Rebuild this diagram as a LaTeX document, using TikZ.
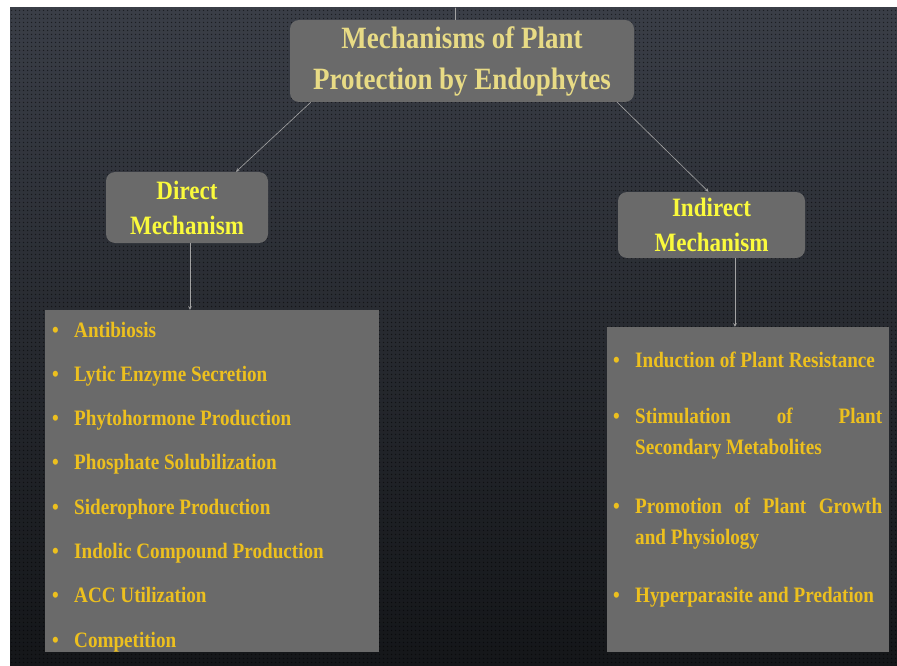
\documentclass[tikz,border=0pt]{standalone}
\usepackage{fontspec}
\newfontfamily\slidefont{Liberation Serif}[FakeStretch=0.87]
\usetikzlibrary{arrows.meta,patterns.meta}
\hyphenpenalty=10000
\tolerance=10000
\definecolor{bgtop}{HTML}{3A3E47}
\definecolor{bgbot}{HTML}{141619}
\definecolor{boxgray}{HTML}{6A6A6A}
\definecolor{titletext}{HTML}{E8DB85}
\definecolor{mechtext}{HTML}{FAFA3C}
\definecolor{itemtext}{HTML}{EDC01E}
\definecolor{linkgray}{HTML}{A3A3A3}
\newcommand{\dotmark}{\hbox to 22pt{\textbullet\hfil}}
\tikzset{
  headbox/.style={fill=boxgray, rounded corners=9pt, align=center, inner sep=0pt},
  ttlfont/.style={text=titletext, font=\slidefont\bfseries\fontsize{31}{41}\selectfont},
  mechfont/.style={text=mechtext, font=\slidefont\bfseries\fontsize{26.5}{35}\selectfont},
  listbox/.style={fill=boxgray, inner sep=0pt},
  bulleted/.style={anchor=base west, inner sep=0pt, text=itemtext,
    font=\slidefont\bfseries\fontsize{22}{31}\selectfont},
  link/.style={draw=linkgray, line width=0.6pt},
}
\begin{document}
\begin{tikzpicture}[x=1pt, y=-1pt, >=stealth, line join=round, line cap=round]
  \useasboundingbox (0,0) rectangle (897,666);
  % backdrop
  \fill[white] (0,0) rectangle (897,666);
  \shade[top color=bgtop, bottom color=bgbot] (10,8) rectangle (897,666);
  \fill[pattern={Dots[distance=4pt,radius=0.9pt]}, pattern color=black, fill opacity=0.5] (10,8) rectangle (897,666);
  % headings
  \node[headbox, ttlfont, minimum width=344pt, minimum height=82pt] (ttl) at (462,61) {Mechanisms of Plant\\Protection by Endophytes};
  \node[headbox, mechfont, minimum width=162pt, minimum height=71pt] (dir) at (187,207.5) {Direct\\Mechanism};
  \node[headbox, mechfont, minimum width=187pt, minimum height=66pt] (ind) at (711.5,225) {Indirect\\Mechanism};
  % list panels
  \node[listbox, minimum width=334pt, minimum height=342pt] (dl) at (212,481) {};
  \node[listbox, minimum width=282pt, minimum height=325pt] (il) at (748,489.5) {};
  % direct items
  \foreach \txt [count=\i] in {Antibiosis, Lytic Enzyme Secretion, Phytohormone Production,
      Phosphate Solubilization, Siderophore Production, Indolic Compound Production,
      ACC Utilization, Competition}
    \node[bulleted] (d\i) at (52,{337+44.3*(\i-1)}) {\dotmark\txt};
  % indirect items
  \node[bulleted, text width=269pt, align=justify] (i1) at (613,367) {\hangindent=22pt\hangafter=1\dotmark Induction of Plant Resistance\par};
  \node[bulleted, text width=269pt, align=justify] (i2) at (613,423) {\hangindent=22pt\hangafter=1\dotmark Stimulation of Plant Secondary Metabolites\par};
  \node[bulleted, text width=269pt, align=justify] (i3) at (613,513) {\hangindent=22pt\hangafter=1\dotmark Promotion of Plant Growth and Physiology\par};
  \node[bulleted, text width=269pt, align=justify] (i4) at (613,602) {\hangindent=22pt\hangafter=1\dotmark Hyperparasite and Predation\par};
  % connectors
  \coordinate (feed) at (455,8);
  \draw[link] (feed) -- (feed |- ttl.north);
  \draw[link, ->] ([xshift=21pt]ttl.south west) -- ([xshift=49pt]dir.north);
  \draw[link, ->] ([xshift=-17pt]ttl.south east) -- ([xshift=-3pt]ind.north);
  \draw[link, ->] ([xshift=3pt]dir.south) -- ([xshift=3pt]dir.south |- dl.north);
  \draw[link, ->] ([xshift=23.5pt]ind.south) -- ([xshift=23.5pt]ind.south |- il.north);
\end{tikzpicture}
\end{document}
